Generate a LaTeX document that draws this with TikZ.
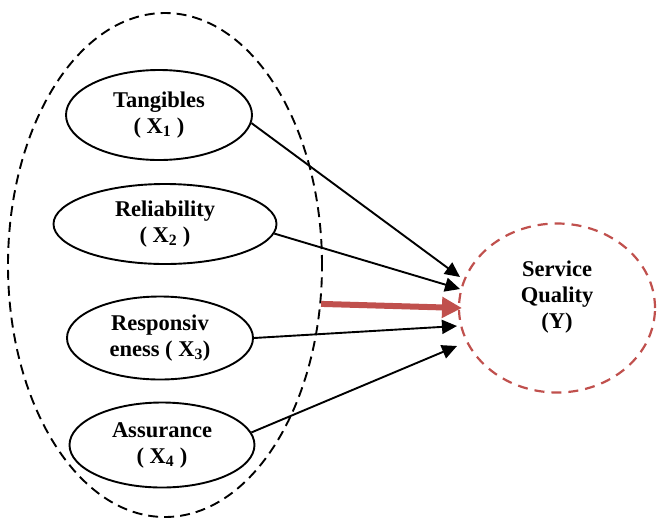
\documentclass[tikz,border=0pt]{standalone}
\usepackage{fontspec}
\setmainfont{Liberation Serif}
\usetikzlibrary{arrows.meta,shapes.geometric}
\definecolor{softred}{RGB}{192,80,77}

\begin{document}
\begin{tikzpicture}[->,>={Triangle[length=15pt,width=14pt]},x=1pt,y=-1pt,
                    line width=1.9pt,font=\fontsize{22.5}{26}\selectfont\bfseries]
  \tikzstyle{dim}=[ellipse,draw,align=center,inner sep=0pt]
  \useasboundingbox (0,0) rectangle (658,520);

  \node[dim,dash pattern=on 10pt off 6pt,minimum width=314pt,minimum height=504pt] (G) at (165,265) {};
  \node[dim,minimum width=186pt,minimum height=90pt]  (T) at (159,115) {Tangibles\\( X\textsubscript{1} )};
  \node[dim,minimum width=223pt,minimum height=80pt]  (R) at (165,224) {Reliability\\( X\textsubscript{2} )};
  \node[dim,minimum width=186pt,minimum height=83pt]  (S) at (160,338) {Responsiv\\eness ( X\textsubscript{3})};
  \node[dim,minimum width=185pt,minimum height=85pt]  (A) at (162,445) {Assurance\\( X\textsubscript{4} )};
  \node[dim,draw=softred,line width=2.2pt,dash pattern=on 10pt off 7pt,
        minimum width=196pt,minimum height=169pt] (Q) at (557,308) {Service\\Quality\\(Y)\\\mbox{}};

  \coordinate (t1) at (460,277);
  \coordinate (t2) at (460,289);
  \coordinate (t3) at (457,326);
  \coordinate (t4) at (457,346);
  \coordinate (t5) at (462,308);

  \path (T.-5)  edge (t1)
        (R.-5)  edge (t2)
        (S.0)   edge (t3)
        (A.8)   edge (t4)
        (G.-14) edge [draw=softred,line width=6pt,-{Triangle[length=20pt,width=20pt]}] (t5);
\end{tikzpicture}
\end{document}
